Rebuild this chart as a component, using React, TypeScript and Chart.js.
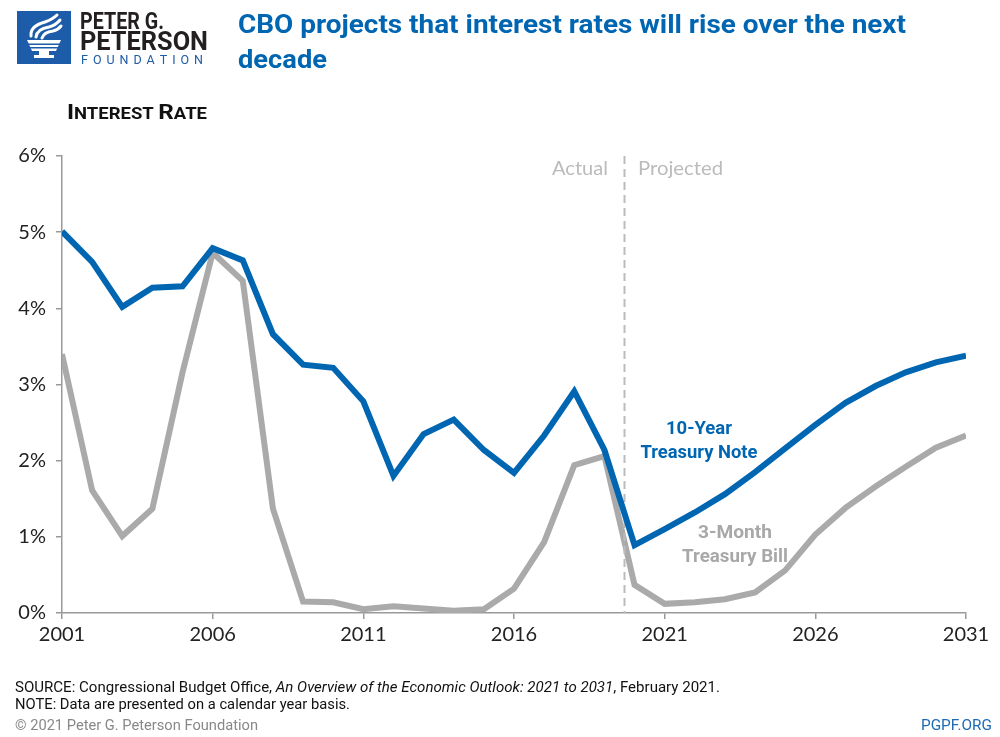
import React, { useEffect, useRef } from "react";
import { Chart, registerables } from "chart.js";
Chart.register(...registerables);

const years = [2001, 2002, 2003, 2004, 2005, 2006, 2007, 2008, 2009, 2010, 2011, 2012, 2013, 2014, 2015, 2016, 2017, 2018, 2019, 2020, 2021, 2022, 2023, 2024, 2025, 2026, 2027, 2028, 2029, 2030, 2031];
const treasuryNote10Y = [5.01, 4.61, 4.02, 4.27, 4.29, 4.79, 4.63, 3.66, 3.26, 3.22, 2.78, 1.80, 2.35, 2.54, 2.14, 1.84, 2.33, 2.91, 2.14, 0.89, 1.10, 1.32, 1.56, 1.85, 2.16, 2.47, 2.76, 2.98, 3.16, 3.29, 3.38];
const treasuryBill3M = [3.40, 1.61, 1.01, 1.37, 3.16, 4.73, 4.36, 1.37, 0.15, 0.14, 0.05, 0.09, 0.06, 0.03, 0.05, 0.32, 0.93, 1.94, 2.06, 0.37, 0.12, 0.14, 0.18, 0.27, 0.56, 1.03, 1.38, 1.66, 1.92, 2.17, 2.33];
const actualProjectedSplit = 2019.65;

const BLUE = "#0066b2";
const GRAY = "#aaaaaa";

type Seg = { t: string; f: string };

function drawSegs(ctx: CanvasRenderingContext2D, segs: Seg[], x: number, y: number, color: string, width?: number, align: "left" | "center" | "right" = "left") {
  let natural = 0;
  const ws = segs.map((s) => {
    ctx.font = s.f;
    const w = ctx.measureText(s.t).width;
    natural += w;
    return w;
  });
  const sx = width ? width / natural : 1;
  const total = natural * sx;
  const start = align === "left" ? x : align === "center" ? x - total / 2 : x - total;
  ctx.save();
  ctx.translate(start, y);
  ctx.scale(sx, 1);
  ctx.fillStyle = color;
  ctx.textBaseline = "alphabetic";
  ctx.textAlign = "left";
  let cx = 0;
  segs.forEach((s, i) => {
    ctx.font = s.f;
    ctx.fillText(s.t, cx, 0);
    cx += ws[i];
  });
  ctx.restore();
}

function drawSpaced(ctx: CanvasRenderingContext2D, text: string, x: number, y: number, font: string, color: string, width: number) {
  ctx.save();
  ctx.font = font;
  ctx.fillStyle = color;
  ctx.textBaseline = "alphabetic";
  ctx.textAlign = "left";
  const chars = text.split("");
  const ws = chars.map((c) => ctx.measureText(c).width);
  const natural = ws.reduce((a, b) => a + b, 0);
  const extra = (width - natural) / (chars.length - 1);
  let cx = x;
  chars.forEach((c, i) => {
    ctx.fillText(c, cx, y);
    cx += ws[i] + extra;
  });
  ctx.restore();
}

function drawLogo(ctx: CanvasRenderingContext2D) {
  ctx.save();
  ctx.fillStyle = "#1d5ca8";
  ctx.fillRect(17, 11, 54, 53);
  ctx.fillStyle = "#ffffff";
  ctx.strokeStyle = "#ffffff";
  ctx.lineCap = "round";
  ctx.lineWidth = 3;
  ctx.beginPath();
  ctx.moveTo(31, 36);
  ctx.quadraticCurveTo(30, 26, 45, 22);
  ctx.quadraticCurveTo(53, 19, 57, 15);
  ctx.stroke();
  ctx.beginPath();
  ctx.moveTo(36, 37);
  ctx.quadraticCurveTo(37, 29, 49, 27);
  ctx.quadraticCurveTo(56, 25, 60, 20);
  ctx.stroke();
  ctx.beginPath();
  ctx.moveTo(42, 38);
  ctx.quadraticCurveTo(44, 32, 53, 31);
  ctx.quadraticCurveTo(58, 30, 61, 26);
  ctx.stroke();
  ctx.beginPath();
  ctx.moveTo(27, 40);
  ctx.lineTo(61, 40);
  ctx.lineTo(56, 51);
  ctx.lineTo(32, 51);
  ctx.closePath();
  ctx.fill();
  ctx.fillStyle = "#1d5ca8";
  ctx.fillRect(28, 43.5, 32, 1.5);
  ctx.fillRect(29, 47, 30, 1.5);
  ctx.fillStyle = "#ffffff";
  ctx.fillRect(39, 51, 10, 4);
  ctx.fillRect(34, 55, 20, 3);
  ctx.restore();
  drawSegs(ctx, [{ t: "PETER G.", f: "bold 23px Roboto" }], 80, 28.5, "#231f20", 84);
  drawSegs(ctx, [{ t: "PETERSON", f: "bold 25px Roboto" }], 80, 50, "#231f20", 128);
  drawSpaced(ctx, "FOUNDATION", 81, 63.5, "12.5px Roboto", "#1d5ca8", 122);
}

const decorPlugin = {
  id: "decor",
  afterDatasetDraw(chart: any, args: any) {
    if (args.index !== 1) return;
    const ctx: CanvasRenderingContext2D = chart.ctx;
    const xs = chart.scales.x;
    const ys = chart.scales.y;
    const px = Math.round(xs.getPixelForValue(actualProjectedSplit)) + 0.5;
    ctx.save();
    ctx.strokeStyle = "#bbbbbb";
    ctx.lineWidth = 2;
    ctx.setLineDash([8, 5]);
    ctx.beginPath();
    ctx.moveTo(px, ys.getPixelForValue(6));
    ctx.lineTo(px, ys.getPixelForValue(0));
    ctx.stroke();
    ctx.restore();
  },
  afterDraw(chart: any) {
    const ctx: CanvasRenderingContext2D = chart.ctx;
    drawLogo(ctx);
    drawSegs(ctx, [{ t: "CBO projects that interest rates will rise over the next", f: "bold 26px Roboto" }], 238, 33, BLUE, 668);
    drawSegs(ctx, [{ t: "decade", f: "bold 26px Roboto" }], 238, 68, BLUE, 89);
    drawSegs(ctx, [
      { t: "I", f: "bold 21px Roboto" },
      { t: "NTEREST ", f: "bold 16px Roboto" },
      { t: "R", f: "bold 21px Roboto" },
      { t: "ATE", f: "bold 16px Roboto" },
    ], 67, 118.5, "#111111", 140);
    drawSegs(ctx, [{ t: "Actual", f: "20px Lato" }], 608, 175, "#bbbbbb", 56, "right");
    drawSegs(ctx, [{ t: "Projected", f: "20px Lato" }], 638, 175, "#bbbbbb", 85);
    drawSegs(ctx, [{ t: "10-Year", f: "bold 19px Roboto" }], 699, 434, BLUE, 66, "center");
    drawSegs(ctx, [{ t: "Treasury Note", f: "bold 19px Roboto" }], 699, 458, BLUE, 117, "center");
    drawSegs(ctx, [{ t: "3-Month", f: "bold 19px Roboto" }], 735, 538, "#a8a8a8", 74, "center");
    drawSegs(ctx, [{ t: "Treasury Bill", f: "bold 19px Roboto" }], 735, 562, "#a8a8a8", 106, "center");
    drawSegs(ctx, [
      { t: "SOURCE: Congressional Budget Office, ", f: "15px Roboto" },
      { t: "An Overview of the Economic Outlook: 2021 to 2031", f: "italic 15px Roboto" },
      { t: ", February 2021.", f: "15px Roboto" },
    ], 15, 692, "#111111", 705);
    drawSegs(ctx, [{ t: "NOTE: Data are presented on a calendar year basis.", f: "15px Roboto" }], 15, 709, "#111111", 335);
    drawSegs(ctx, [{ t: "\u00a9 2021 Peter G. Peterson Foundation", f: "15px Roboto" }], 15, 730, "#888888", 243);
    drawSegs(ctx, [{ t: "PGPF.ORG", f: "15px Roboto" }], 992, 730, "#1d6ab5", 71, "right");
  },
};

export default function App() {
  const ref = useRef<HTMLCanvasElement>(null);
  useEffect(() => {
    if (!ref.current) return;
    const chart = new Chart(ref.current, {
      type: "line",
      data: {
        datasets: [
          {
            label: "10-Year Treasury Note",
            data: years.map((y, i) => ({ x: y, y: treasuryNote10Y[i] })),
            borderColor: BLUE,
            borderWidth: 6,
            pointRadius: 0,
            tension: 0,
            fill: false,
          },
          {
            label: "3-Month Treasury Bill",
            data: years.map((y, i) => ({ x: y, y: treasuryBill3M[i] })),
            borderColor: GRAY,
            borderWidth: 6,
            pointRadius: 0,
            tension: 0,
            fill: false,
          },
        ],
      },
      options: {
        responsive: false,
        animation: false,
        layout: { padding: { left: 0, right: 34, top: 156, bottom: 84 } },
        plugins: { legend: { display: false }, tooltip: { enabled: false } },
        scales: {
          x: {
            type: "linear",
            min: 2001,
            max: 2031,
            ticks: {
              stepSize: 5,
              callback: (v: any) => String(v),
              font: { family: "Lato", size: 20 },
              color: "#222222",
              padding: 4,
              maxRotation: 0,
              autoSkip: false,
            },
            grid: { drawOnChartArea: false, drawTicks: true, tickLength: 6, color: "#999999", lineWidth: 1.5 },
            border: { color: "#999999", width: 1.5 },
            afterFit: (s: any) => {
              s.height = 40;
            },
          },
          y: {
            min: 0,
            max: 6,
            ticks: {
              stepSize: 1,
              callback: (v: any) => v + "%",
              font: { family: "Lato", size: 20 },
              color: "#222222",
              padding: 10,
            },
            grid: { drawOnChartArea: false, drawTicks: true, tickLength: 6, color: "#999999", lineWidth: 1.5 },
            border: { color: "#999999", width: 1.5 },
            afterFit: (s: any) => {
              s.width = 62;
            },
          },
        },
      },
      plugins: [decorPlugin],
    });
    return () => chart.destroy();
  }, []);
  return (
    <div style={{ position: "absolute", left: 0, top: 0, width: 1000, height: 737, background: "#ffffff" }}>
      <canvas ref={ref} width={1000} height={737} style={{ display: "block" }} />
    </div>
  );
}
